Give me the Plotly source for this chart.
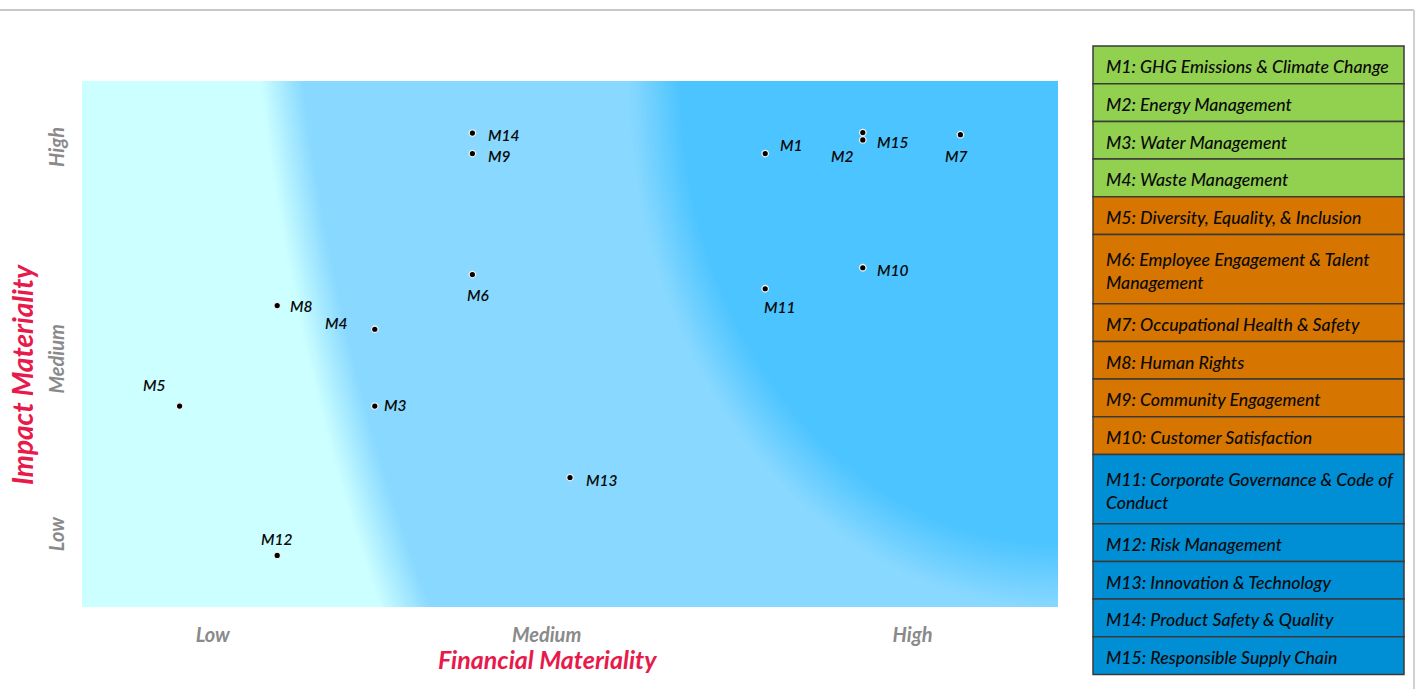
import numpy as np
import plotly.graph_objects as go

# ---------------- data ----------------
topics = ["M1", "M2", "M3", "M4", "M5", "M6", "M7", "M8", "M9", "M10",
          "M11", "M12", "M13", "M14", "M15"]
financial = [7, 8, 3, 3, 1, 4, 9, 2, 4, 8, 7, 2, 5, 4, 8]
impact = [8.62, 8.88, 3.82, 5.28, 3.82, 6.32, 8.98, 5.73, 8.62, 6.45,
          6.05, 0.98, 2.46, 9.01, 9.02]

x_tick_vals = [1.34, 4.76, 8.51]
y_tick_vals = [1.33, 4.66, 8.69]
tick_labels = ["Low", "Medium", "High"]

legend_items = [
    "M1: GHG Emissions & Climate Change",
    "M2: Energy Management",
    "M3: Water Management",
    "M4: Waste Management",
    "M5: Diversity, Equality, & Inclusion",
    "M6: Employee Engagement & Talent<br>Management",
    "M7: Occupational Health & Safety",
    "M8: Human Rights",
    "M9: Community Engagement",
    "M10: Customer Satisfaction",
    "M11: Corporate Governance & Code of<br>Conduct",
    "M12: Risk Management",
    "M13: Innovation & Technology",
    "M14: Product Safety & Quality",
    "M15: Responsible Supply Chain",
]
legend_groups = ["env"] * 4 + ["soc"] * 6 + ["gov"] * 5

# ---------------- styling ----------------
W, H = 1418, 689
L, R, T, B = 82, 1058, 81, 607          # plot area in pixels
PW, PH = R - L, B - T
GROUP_COLORS = {"env": "#92d050", "soc": "#d67600", "gov": "#008fd5"}
ZONE_COLORS = ["#ccffff", "#88d8ff", "#4cc4ff"]
FONT = "Lato"

# label offsets (xanchor, dx px, dy px) relative to each point
LABEL_POS = {
    "M1": ("left", 13, -9), "M2": ("right", -7, 16), "M3": ("left", 7, -1),
    "M4": ("right", -25, -6), "M5": ("right", -12, -21), "M6": ("center", 6, 20),
    "M7": ("center", -4, 21), "M8": ("left", 11, 0), "M9": ("left", 14, 2),
    "M10": ("left", 12, 2), "M11": ("center", 15, 18), "M12": ("center", 0, -16),
    "M13": ("left", 14, 2), "M14": ("left", 14, 2), "M15": ("left", 12, 9),
}


def px_x(p):
    return (p - L) / PW


def px_y(p):
    return (B - p) / PH


# ---------------- background zones ----------------
nx, ny = 260, 150
gx = np.linspace(0, 10, nx)
gy = np.linspace(0, 10, ny)
GX, GY = np.meshgrid(gx, gy)
X = L + GX / 10 * PW
Y = B - GY / 10 * PH
r1 = np.sqrt(((X - 1058) / 797.6) ** 2 + ((Y + 260) / 1510) ** 2)
r2 = np.sqrt(((X - 1058) / 403) ** 2 + ((Y - 81) / 494) ** 2)
s1 = np.clip(0.5 + (1 - r1) * 797.6 / 42, 0, 1)
s2 = np.clip(0.5 + (1 - r2) * 403 / 52, 0, 1)
Z = s1 + s2

fig = go.Figure()
fig.add_trace(go.Heatmap(
    x=gx, y=gy, z=Z, zmin=0, zmax=2, zsmooth="best", showscale=False,
    colorscale=[[0, ZONE_COLORS[0]], [0.5, ZONE_COLORS[1]], [1, ZONE_COLORS[2]]],
    hoverinfo="skip",
))

fig.add_trace(go.Scatter(
    x=financial, y=impact, mode="markers",
    marker=dict(size=6.5, color="black", line=dict(color="#f0f0f0", width=1.3)),
    text=topics, hoverinfo="text", showlegend=False,
))

annotations = []
for name, xv, yv in zip(topics, financial, impact):
    xa, dx, dy = LABEL_POS[name]
    annotations.append(dict(
        x=xv, y=yv, xref="x", yref="y", text=name, showarrow=False,
        xanchor=xa, yanchor="middle", xshift=dx, yshift=-dy,
        font=dict(family=FONT, size=15.5, color="#0a0a0a", style="italic",
                  weight=600),
    ))

# axis titles
annotations.append(dict(
    x=px_x(547), y=px_y(659), xref="paper", yref="paper",
    text="Financial Materiality", showarrow=False, xanchor="center", yanchor="middle",
    font=dict(family=FONT, size=25, color="#e8194b", style="italic", weight="bold"),
))
annotations.append(dict(
    x=px_x(22), y=px_y(375), xref="paper", yref="paper", textangle=-90,
    text="Impact Materiality", showarrow=False, xanchor="center", yanchor="middle",
    font=dict(family=FONT, size=28, color="#e8194b", style="italic", weight="bold"),
))

# ---------------- legend table ----------------
shapes = []
lx0, lx1 = 1093, 1404
row_single, row_double = 37.7, 69.2
ytop = 46
for text, grp in zip(legend_items, legend_groups):
    h = row_double if "<br>" in text else row_single
    y0, y1 = ytop, ytop + h
    shapes.append(dict(
        type="rect", xref="paper", yref="paper",
        x0=px_x(lx0), x1=px_x(lx1), y0=px_y(y1), y1=px_y(y0),
        fillcolor=GROUP_COLORS[grp], line=dict(color="#3a3a3a", width=1.5),
        layer="above",
    ))
    annotations.append(dict(
        x=px_x(1104), y=px_y((y0 + y1) / 2), xref="paper", yref="paper",
        text=text, showarrow=False, xanchor="left", yanchor="middle", align="left",
        yshift=-2,
        font=dict(family=FONT, size=17.7, color="#0a0a0a", style="italic", weight=500),
    ))
    ytop = y1

# frame lines
shapes.append(dict(type="line", xref="paper", yref="paper",
                   x0=px_x(0), x1=px_x(1414), y0=px_y(10), y1=px_y(10),
                   line=dict(color="#c8c8c8", width=2)))
shapes.append(dict(type="line", xref="paper", yref="paper",
                   x0=px_x(1414), x1=px_x(1414), y0=px_y(10), y1=px_y(689),
                   line=dict(color="#d0d0d0", width=2)))

tickfont = dict(family=FONT, size=20, color="#8a8a8a", style="italic", weight="bold")
fig.update_layout(
    width=W, height=H,
    margin=dict(l=L, r=W - R, t=T, b=H - B),
    paper_bgcolor="white", plot_bgcolor="white",
    showlegend=False,
    xaxis=dict(range=[0, 10], showgrid=False, zeroline=False, showline=False,
               tickvals=x_tick_vals, ticktext=tick_labels, tickfont=tickfont,
               ticks="outside", ticklen=10, tickcolor="rgba(0,0,0,0)", fixedrange=True),
    yaxis=dict(range=[0, 10], showgrid=False, zeroline=False, showline=False,
               tickvals=y_tick_vals, ticktext=tick_labels, tickfont=tickfont,
               tickangle=-90, ticks="outside", ticklen=9,
               tickcolor="rgba(0,0,0,0)", fixedrange=True),
    shapes=shapes,
    annotations=annotations,
)

fig.write_html("out.html")
